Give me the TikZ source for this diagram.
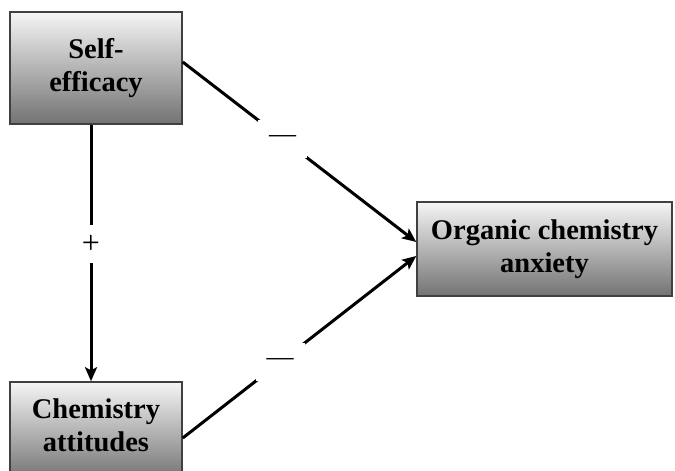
\documentclass[tikz,border=0pt]{standalone}
\usepackage{fontspec}
\setmainfont{Liberation Serif}
\usetikzlibrary{arrows.meta}
\begin{document}
\begin{tikzpicture}[x=1pt,y=-1pt,
  box/.style={draw=black!75,line width=1.5pt,top color=black!4,bottom color=black!55,
    font=\fontsize{28.5}{33}\selectfont\bfseries,align=center,inner sep=0pt},
  conn/.style={line width=3pt,-{Stealth[length=14pt,width=12pt,inset=3pt]}},
  gap/.style={fill=white,inner sep=0pt,font=\fontsize{27}{27}\selectfont}]
\useasboundingbox (0,0) rectangle (675,471);
\node[box,minimum width=172pt,minimum height=112pt] (se) at (96,68) {Self-\\efficacy};
\node[box,minimum width=255pt,minimum height=94pt] (oca) at (544.5,249) {Organic chemistry\\anxiety};
\node[box,minimum width=172pt,minimum height=98pt] (ca) at (96,431) {};
\node[font=\fontsize{28.5}{33}\selectfont\bfseries,align=center,inner sep=0pt] (cat) at (96,425) {Chemistry\\attitudes};
\draw[conn] ([xshift=-5pt]se.south) -- node[gap,pos=0.465,minimum width=20pt,minimum height=38pt,font=\fontsize{32}{32}\selectfont] (plus) {+} ([xshift=-5pt]ca.north);
\draw[conn] ([yshift=6pt]se.east) -- node[gap,pos=0.428,minimum width=49pt,minimum height=38pt] (m1) {\textemdash} ([yshift=7pt]oca.west);
\draw[conn] ([yshift=-7pt]ca.east) -- node[gap,pos=0.417,minimum width=49pt,minimum height=38pt] (m2) {\textemdash} ([yshift=-7pt]oca.west);
\end{tikzpicture}
\end{document}
